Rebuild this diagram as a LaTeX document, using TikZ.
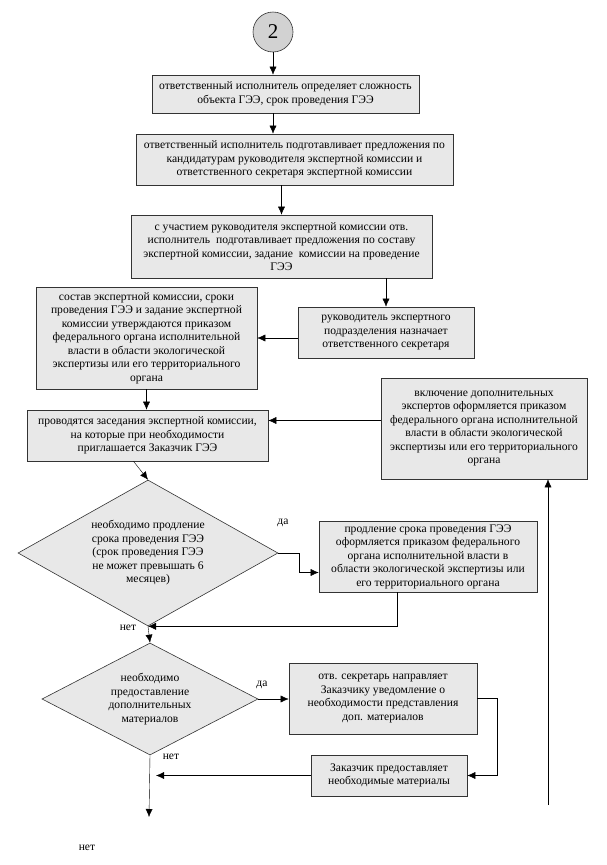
\documentclass[tikz,border=0pt]{standalone}
\usepackage{fontspec}
\setmainfont{Liberation Serif}
\usetikzlibrary{arrows.meta,shapes.geometric,positioning,calc}

\tikzset{
    box/.style={draw=black!80, fill=gray!18, line width=0.6pt, align=center, inner sep=1pt,
        font=\fontsize{11.6}{13.5}\selectfont},
    decide/.style={diamond, draw=black!80, fill=gray!18, line width=0.6pt, align=center, inner sep=0pt,
        font=\fontsize{11.6}{13.5}\selectfont},
    lbl/.style={font=\fontsize{11.6}{13}\selectfont, inner sep=0pt},
    >={Latex[length=8pt,width=7pt]}
}

\begin{document}
\begin{tikzpicture}[x=1pt,y=-1pt]
        \useasboundingbox (0,0) rectangle (607,865);
        \node[circle, draw=black!80, fill=gray!35, line width=0.6pt, minimum size=40pt, inner sep=0pt,
            font=\fontsize{21}{21}\selectfont] (circ) at (273,32) {2};
        \node[box, minimum width=267pt, minimum height=38pt] (b1) at (285.5,94)
            {ответственный исполнитель определяет сложность\\объекта ГЭЭ, срок проведения ГЭЭ};
        \node[box, minimum width=317pt, minimum height=51pt] (b2) at (294.5,159.5)
            {ответственный исполнитель подготавливает предложения по\\кандидатурам руководителя экспертной комиссии и\\ответственного секретаря экспертной комиссии};
        \node[box, minimum width=301pt, minimum height=63pt] (b3) at (281.5,246.5)
            {с участием руководителя экспертной комиссии отв.\\исполнитель\ \ подготавливает предложения по составу\\экспертной комиссии, задание\ \ комиссии на проведение\\ГЭЭ};
        \node[box, minimum width=176pt, minimum height=51pt] (b4) at (386,332.5)
            {руководитель экспертного\\подразделения назначает\\ответственного секретаря};
        \node[box, minimum width=221pt, minimum height=102pt] (b5) at (146.5,338)
            {состав экспертной комиссии, сроки\\проведения ГЭЭ и задание экспертной\\комиссии утверждаются приказом\\федерального органа исполнительной\\власти в области экологической\\экспертизы или его территориального\\органа};
        \node[box, minimum width=241pt, minimum height=51pt] (b6) at (147.5,435.5)
            {проводятся заседания экспертной комиссии,\\на которые при необходимости\\приглашается Заказчик ГЭЭ};
        \node[box, minimum width=206pt, minimum height=101pt] (b7) at (484,428.5)
            {включение дополнительных\\экспертов оформляется приказом\\федерального органа исполнительной\\власти в области экологической\\экспертизы или его территориального\\органа};
        \node[decide, minimum width=260pt, minimum height=146pt, aspect=1.78] (d1) at (148,553)
            {необходимо продление\\срока проведения ГЭЭ\\(срок проведения ГЭЭ\\не может превышать 6\\месяцев)};
        \node[box, minimum width=218pt, minimum height=71pt] (b8) at (428,556.5)
            {продление срока проведения ГЭЭ\\оформляется приказом федерального\\органа исполнительной власти в\\области экологической экспертизы или\\его территориального органа};
        \node[decide, minimum width=216pt, minimum height=112pt, aspect=1.93] (d2) at (150,699)
            {необходимо\\предоставление\\дополнительных\\материалов};
        \node[box, minimum width=188pt, minimum height=71pt] (b9) at (383,698.5)
            {отв. секретарь направляет\\Заказчику уведомление о\\необходимости представления\\доп. материалов};
        \node[box, minimum width=156pt, minimum height=41pt] (b10) at (389,775.5)
            {Заказчик предоставляет\\необходимые материалы};
        \coordinate (loopend) at (548,805);
        \coordinate (exit) at (149,817);
        \node[lbl] (yes1) at (283,523) {да};
        \node[lbl] (no1) at (128,628) {нет};
        \node[lbl] (yes2) at (262,685) {да};
        \node[lbl] (no2) at (171,757) {нет};
        \node[lbl] (no3) at (87,848) {нет};
        \draw[->] (circ.south) -- (circ.south |- b1.north);
        \draw[->] (b1.south -| circ.south) -- (b2.north -| circ.south);
        \draw[->] (b2.south -| b3.north) -- (b3.north);
        \draw[->] (b3.south -| b4.north) -- (b4.north);
        \draw[->] (b4.west |- b5.east) -- (b5.east);
        \draw[->] (b5.south) -- (b5.south |- b6.north);
        \draw[->] ([yshift=8pt]b7.west) -- ([yshift=8pt]b7.west -| b6.east);
        \draw[->] (loopend) -- (loopend |- b7.south);
        \draw[->] ([xshift=-14pt]b6.south) -- (d1.north);
        \draw[->] (d1.east) -- ++(21,0) |- ([yshift=-16pt]b8.west);
        \draw[->] ([xshift=-31pt]b8.south) |- (d1.south);
        \draw[->] (d1.south) -- (d2.north);
        \draw[->] (d2.east) -- (d2.east -| b9.west);
        \draw[->] (b9.east) -- ++(20,0) |- (b10.east);
        \draw[->, shorten >=6pt] (b10.west) -- (b10.west -| d2.south);
        \draw[->] (d2.south) -- (exit);
    \end{tikzpicture}
\end{document}
